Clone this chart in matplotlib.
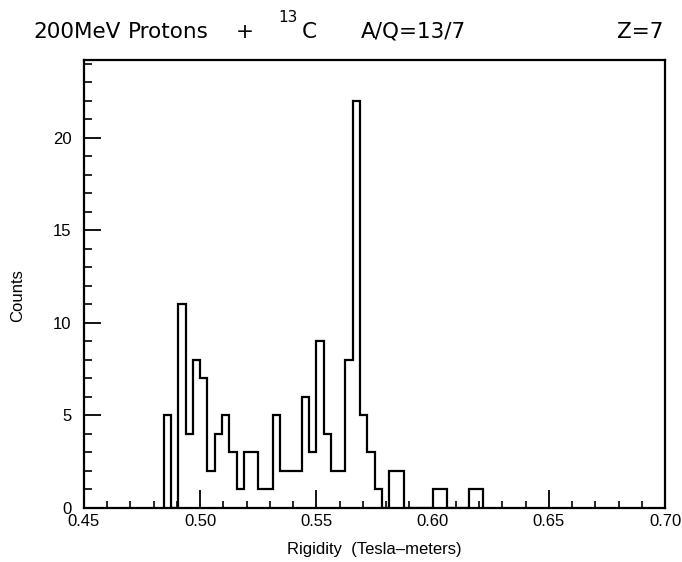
import matplotlib
matplotlib.use("Agg")
import matplotlib.pyplot as plt
import numpy as np
from matplotlib.ticker import MultipleLocator, FormatStrFormatter

# ---- data ----
bin_start = 0.484375
bin_width = 0.003125
counts = [5, 0, 11, 4, 8, 7, 2, 4, 5, 3, 1, 3, 3, 1, 1, 5, 2, 2, 2, 6,
          3, 9, 4, 2, 2, 8, 22, 5, 3, 1, 0, 2, 2, 0, 0, 0, 0, 1, 1, 0,
          0, 0, 1, 1]
x_ticks = [0.45, 0.50, 0.55, 0.60, 0.65, 0.70]
y_ticks = [0, 5, 10, 15, 20]
title_parts = ["200MeV", "Protons", "+", "C", "A/Q=13/7", "Z=7"]
superscript = "13"
x_label = "Rigidity  (Tesla–meters)"
y_label = "Counts"

edges = bin_start + bin_width * np.arange(len(counts) + 1)

W, H = 682, 562
L, R, B, T = 84, 665, 508, 60
fig = plt.figure(figsize=(W / 100, H / 100), dpi=100)
ax = fig.add_axes([L / W, 1 - B / H, (R - L) / W, (B - T) / H])

ax.stairs(counts, edges, baseline=0, color="black", linewidth=1.6)

ax.set_xlim(0.45, 0.70)
ax.set_ylim(0, 24.2)
ax.set_xticks(x_ticks)
ax.set_yticks(y_ticks)
ax.xaxis.set_major_formatter(FormatStrFormatter("%.2f"))
ax.xaxis.set_minor_locator(MultipleLocator(0.01))
ax.yaxis.set_minor_locator(MultipleLocator(1))

lab_font = dict(family="Liberation Sans", size=12)
for lbl in ax.get_xticklabels() + ax.get_yticklabels():
    lbl.set_fontfamily("Liberation Sans")
    lbl.set_fontsize(12)

ax.tick_params(axis="x", which="major", direction="in", length=13, width=1.3, pad=4)
ax.tick_params(axis="x", which="minor", direction="in", length=5, width=1.2)
ax.tick_params(axis="y", which="major", direction="in", length=12, width=1.3, pad=9)
ax.tick_params(axis="y", which="minor", direction="in", length=6, width=1.2)
ax.tick_params(top=False, right=False, which="both")
for s in ax.spines.values():
    s.set_linewidth(1.6)

ax.set_xlabel(x_label, fontdict=lab_font)
ax.set_ylabel(y_label, fontdict=lab_font)
ax.xaxis.set_label_coords(0.5, -(542 - B) / (B - T))
ax.yaxis.set_label_coords((25 - L) / (R - L), (B - 296) / (B - T))

# title pieces (centred on the reference positions)
tfont = dict(family="DejaVu Sans", size=15.5)
ty = 1 - 38 / H
xs = [77, 168, 245, 309, 413, 640]
for txt, xp in zip(title_parts, xs):
    fig.text(xp / W, ty, txt, ha="center", va="baseline", **tfont)
fig.text(288 / W, 1 - 22 / H, superscript, ha="center", va="baseline",
         family="DejaVu Sans", size=11)

fig.savefig("out.png", dpi=100)
